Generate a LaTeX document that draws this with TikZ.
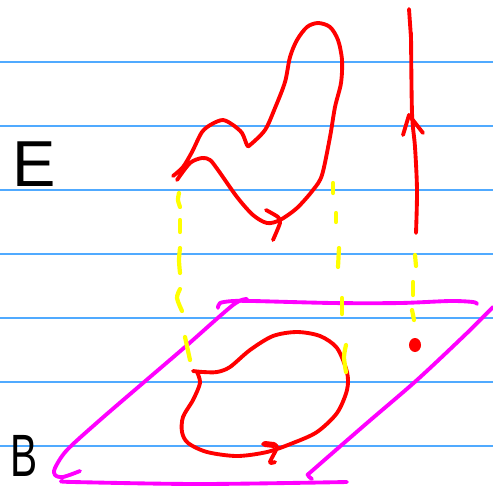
\documentclass[tikz,border=0pt]{standalone}
\usepackage{fontspec}
\setmainfont{Liberation Sans}
\definecolor{ruleblue}{RGB}{80,170,255}
\definecolor{inkred}{RGB}{255,0,0}
\definecolor{inkpink}{RGB}{255,0,255}
\definecolor{inkyellow}{RGB}{255,255,0}
\tikzset{
  ruled/.style={ruleblue,line width=0.85pt},
  redink/.style={inkred,line width=2.2pt,line cap=round,line join=round},
  pinkink/.style={inkpink,line width=2.2pt,line cap=round,line join=round},
  dashink/.style={inkyellow,line width=2.4pt,line cap=round},
  letter/.style={font=\fontsize{37}{37}\selectfont,inner sep=0pt,text=black}
}
\begin{document}
\begin{tikzpicture}[x=0.02cm,y=-0.02cm]
  \useasboundingbox (0,0) rectangle (493,491);
  % Paper rules
  \foreach \y in {62,126,190,254,318,382,446}
    \draw[ruled] (0,\y) -- (493,\y);

  % Letters
  \node[letter] (labelE) at (34,164) {E};
  \node[letter,font=\fontsize{34}{34}\selectfont,xscale=0.68] (labelB) at (24,456) {B};

  % Base parallelogram
  \draw[pinkink] plot[smooth] coordinates {(247,299) (233,305) (185,347) (143,383) (100,420) (67,450) (55,468) (55,475) (63,477) (80,471)};
  \draw[pinkink] plot[smooth] coordinates {(218,308) (220,303) (233,301) (253,301) (333,303) (400,303) (450,301) (473,302) (477,304)};
  \draw[pinkink] plot[smooth] coordinates {(63,481) (73,482) (200,484) (347,482)};
  \draw[pinkink] plot[smooth] coordinates {(493,307) (467,333) (417,380) (367,423) (313,470) (308,475) (312,479)};

  % Loop in the base
  \draw[redink] plot[smooth] coordinates {(193,371) (203,372) (217,372) (230,367) (250,350) (273,336) (297,332) (320,336) (337,348) (347,372) (347,390) (337,413) (317,432) (293,443) (267,452) (237,456) (207,452) (188,443) (182,432) (183,417) (193,400) (200,383) (197,372)};
  \draw[redink] plot[smooth] coordinates {(263,444) (270,444) (277,447) (270,462) (275,462)};
  \draw[redink,line width=3.4pt] (265,444) -- (274,445);
  \fill[inkred] (415,345) ellipse [x radius=6,y radius=7];

  % Curve above
  \draw[redink] plot[smooth,tension=0.5] coordinates {(173,176) (183,167) (192,152) (202,132) (212,124) (223,120) (233,125) (242,133) (247,145) (250,145) (265,130) (275,108) (285,82) (290,57) (297,40) (307,27) (318,23) (330,27) (338,40) (342,60) (341,83) (335,107) (330,137) (322,175) (313,190) (297,208) (280,220) (267,223) (253,215) (237,197) (218,170) (210,160) (202,158) (190,163) (177,180)};
  \draw[redink] plot[smooth,tension=0.4] coordinates {(266,210) (278,217) (280,223) (273,240)};

  % Fibre on the right
  \draw[redink] (409,9) -- (411,38);
  \draw[redink] plot[smooth] coordinates {(411,33) (412,113) (415,147) (417,190) (416,233)};
  \draw[redink] (403,135) -- (409,115) -- (423,133);

  % Dashed verticals
  \draw[dashink] plot[smooth] coordinates {(179,193) (178,200) (180,207)};
  \draw[dashink] (180,220) -- (180,232);
  \draw[dashink] plot[smooth] coordinates {(180,248) (179,260) (180,273)};
  \draw[dashink] plot[smooth] coordinates {(180,289) (177,298) (182,311)};
  \draw[dashink] (185,337) -- (190,360);
  \draw[dashink] (333,183) -- (333,193);
  \draw[dashink] (336,213) -- (336,222);
  \draw[dashink] (339,248) -- (338,267);
  \draw[dashink] (342,298) -- (342,314);
  \draw[dashink] plot[smooth] coordinates {(346,345) (344,357) (346,372)};
  \draw[dashink] (415,255) -- (416,266);
  \draw[dashink] (413,282) -- (413,295);
  \draw[dashink] (412,310) -- (414,320);
\end{tikzpicture}
\end{document}
